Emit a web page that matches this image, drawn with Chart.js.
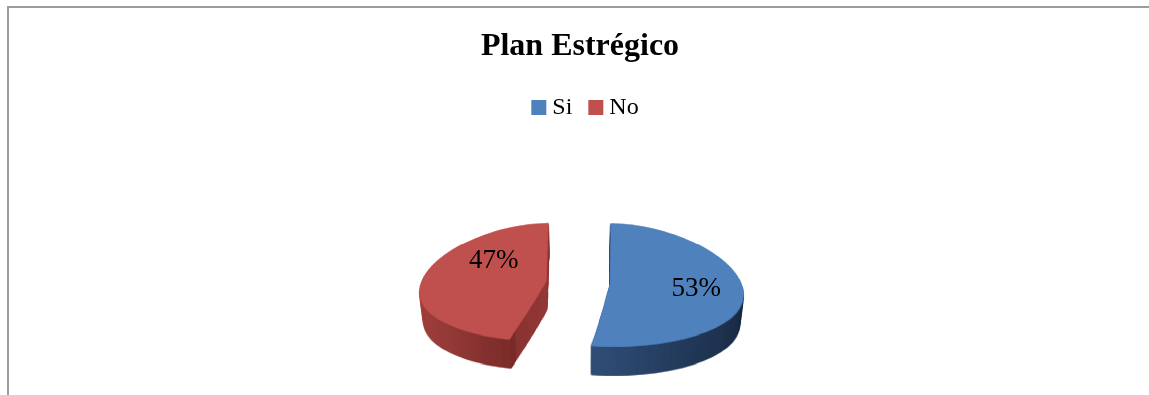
<!DOCTYPE html>
<html>
<head>
<meta charset="utf-8">
<script src="https://cdn.jsdelivr.net/npm/chart.js@4/dist/chart.umd.min.js"></script>
<style>
  html, body { margin: 0; padding: 0; background: #fff; }
  #wrap { position: relative; width: 1149px; height: 395px; overflow: hidden; }
  #frame { position: absolute; left: 7px; top: 6px; right: -4px; bottom: -4px;
           border-left: 2px solid #9c9c9c; border-top: 2px solid #9c9c9c; }
  #c { position: absolute; left: 0; top: 0; }
</style>
</head>
<body>
<div id="wrap">
  <div id="frame"></div>
  <canvas id="c" width="1149" height="395"></canvas>
</div>
<script>
// ---- data ----
const titleText = 'Plan Estrégico';
const categories = ['Si', 'No'];
const values = [53, 47];
const sliceColors = ['#4F81BD', '#C0504D'];

// ---- 3D look (styles) ----
const sideGradients = [
  [[0, '#31507a'], [1, '#1b2c45']],
  [[0, '#a54441'], [0.79, '#7b2d2b'], [0.8, '#8a3533'], [1, '#973c3a']]
];
const TILT = 0.47;      // vertical squash of the pie top
const DEPTH = 29;       // thickness
const CENTER_X = 578;   // pie centre (screen)
const CENTER_Y = 282;
const VX = 585;         // perspective vanishing x
const RY = 60;
const PH = 0.15;        // horizontal perspective
const PV = 0.02;        // vertical perspective
const Q = 0.0008;       // shrink of lower layers
const labelPos = [[0.66, 0.09], [-0.42, -0.33]];

function sliceGeom(el) {
  const p = el.getProps(['x', 'y', 'startAngle', 'endAngle', 'outerRadius'], true);
  const o = (el.options.offset || 0) / 4;
  const h = (p.startAngle + p.endAngle) / 2;
  const circ = p.endAngle - p.startAngle;
  const fix = 1 - Math.sin(Math.min(Math.PI, circ));
  const r = p.outerRadius + o * fix;
  const ccx = CENTER_X + Math.cos(h) * o, ccy = CENTER_Y + Math.sin(h) * o * TILT;
  return { s: p.startAngle, e: p.endAngle, r, ccx, ccy };
}
const mapY = (y) => { const dy = y - CENTER_Y; return CENTER_Y + dy * (1 + PV * dy / RY); };
const scaleX = (y) => 1 + PH * (y - CENTER_Y) / RY;

function warp(ctx, src, d) {
  const W = src.width;
  const y0 = Math.floor(CENTER_Y - 75), y1 = Math.ceil(CENTER_Y + 75);
  for (let y = y0; y < y1; y++) {
    const dt = mapY(y) + d, db = mapY(y + 1) + d;
    const s = scaleX(y + 0.5) * (1 - Q * d);
    ctx.drawImage(src, 0, y, W, 1, VX - VX * s, dt, W * s, (db - dt) + 0.6);
  }
}

const pie3d = {
  id: 'pie3d',
  beforeDatasetsDraw(chart) {
    const ctx = chart.ctx;
    const W = chart.width, H = chart.height;
    const meta = chart.getDatasetMeta(0);
    const el0 = meta.data[0];
    const mk = () => { const c = document.createElement('canvas'); c.width = W; c.height = H; return c; };
    const A = mk(), B = mk();
    const actx = A.getContext('2d'), bctx = B.getContext('2d');
    const setT = (c) => { c.translate(CENTER_X, CENTER_Y); c.scale(1, TILT); c.translate(-el0.x, -el0.y); };
    actx.save(); setT(actx);
    meta.data.forEach((el) => el.draw(actx));
    actx.restore();
    meta.data.forEach((el, i) => {
      const g = sliceGeom(el);
      const T = mk(), tctx = T.getContext('2d');
      tctx.save(); setT(tctx); el.draw(tctx); tctx.restore();
      let xa, xb;
      if (i === 0) { xa = g.ccx + g.r * Math.cos(g.e); xb = g.ccx + g.r; }
      else { xa = g.ccx - g.r; xb = g.ccx + 2; }
      const grad = tctx.createLinearGradient(xa, 0, xb, 0);
      sideGradients[i].forEach(([o, c]) => grad.addColorStop(o, c));
      tctx.globalCompositeOperation = 'source-in';
      tctx.fillStyle = grad;
      tctx.fillRect(0, 0, W, H);
      bctx.drawImage(T, 0, 0);
    });
    for (let d = DEPTH; d >= 1; d--) warp(ctx, B, d);
    warp(ctx, A, 0);
    return false;
  },
  afterDraw(chart) {
    const ctx = chart.ctx;
    const meta = chart.getDatasetMeta(0);
    const total = values.reduce((a, b) => a + b, 0);
    ctx.save();
    ctx.font = '27px "Liberation Serif", "Times New Roman", serif';
    ctx.fillStyle = '#000';
    ctx.textAlign = 'center';
    ctx.textBaseline = 'middle';
    meta.data.forEach((el, i) => {
      const g = sliceGeom(el);
      const lx = g.ccx + labelPos[i][0] * g.r;
      const ly = g.ccy + labelPos[i][1] * g.r * TILT;
      ctx.fillText(Math.round(values[i] / total * 100) + '%', lx, ly);
    });
    ctx.restore();
  }
};

const legendShift = {
  id: 'legendShift',
  afterLayout(chart) {
    if (chart.legend) { chart.legend.left += 8; chart.legend.right += 8; }
  }
};

new Chart(document.getElementById('c'), {
  type: 'pie',
  data: {
    labels: categories,
    datasets: [{
      data: values,
      backgroundColor: sliceColors,
      borderWidth: 0,
      offset: 128,
      clip: false
    }]
  },
  options: {
    responsive: false,
    animation: false,
    radius: 99,
    layout: { padding: { left: 11, right: 0, top: 0, bottom: 0 } },
    plugins: {
      title: {
        display: true,
        text: titleText,
        color: '#000',
        font: { family: '"Liberation Serif", "Times New Roman", serif', size: 32, weight: 'bold' },
        padding: { top: 28, bottom: 7 }
      },
      legend: {
        position: 'top',
        labels: {
          color: '#000',
          font: { family: '"Liberation Serif", "Times New Roman", serif', size: 24 },
          usePointStyle: true,
          pointStyle: 'rect',
          boxWidth: 3,
          boxHeight: 15,
          padding: 22
        }
      },
      tooltip: { enabled: false }
    }
  },
  plugins: [pie3d, legendShift]
});
</script>
</body>
</html>
